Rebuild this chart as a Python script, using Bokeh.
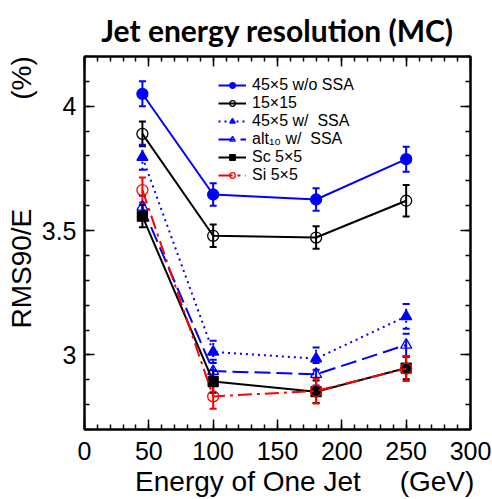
import math
from bokeh.plotting import figure
from bokeh.models import (ColumnDataSource, Whisker, TeeHead, Legend, LegendItem,
                          LinearAxis, SingleIntervalTicker, CustomJSTickFormatter)
from bokeh.embed import file_html
from bokeh.resources import INLINE

# ---------------- data ----------------
energy = [45, 100, 180, 250]

labels = ["45\u00d75 w/o SSA", "15\u00d715", "45\u00d75 w/  SSA", "alt\u2081\u2080 w/  SSA", "Sc 5\u00d75", "Si 5\u00d75"]

wo_ssa = [4.05, 3.645, 3.625, 3.787]
wo_ssa_err = [0.05, 0.045, 0.045, 0.05]

t15 = [3.889, 3.479, 3.472, 3.62]
t15_err = [0.05, 0.045, 0.045, 0.063]

w_ssa = [3.795, 3.012, 2.985, 3.155]
w_ssa_err = [0.05, 0.045, 0.045, 0.05]

alt10 = [3.595, 2.935, 2.922, 3.04]
alt10_err = [0.045, 0.045, 0.045, 0.045]

sc5 = [3.558, 2.893, 2.852, 2.947]
sc5_err = [0.045, 0.045, 0.045, 0.045]

si5 = [3.663, 2.833, 2.855, 2.945]
si5_err = [0.05, 0.05, 0.05, 0.05]

series = [
    (labels[0], wo_ssa, wo_ssa_err, "#0000ff", "solid", "circle", True),
    (labels[1], t15, t15_err, "#000000", "solid", "circle", False),
    (labels[2], w_ssa, w_ssa_err, "#0000ff", "2 4", "triangle", True),
    (labels[3], alt10, alt10_err, "#0000ff", "16 6", "triangle", False),
    (labels[4], sc5, sc5_err, "#000000", "solid", "square", True),
    (labels[5], si5, si5_err, "#ff0000", "14 5 3 5", "circle", False),
]

NB = "\u00a0"
x_title = NB * 7 + "Energy of One Jet" + NB * 5 + "(GeV)"
y_title = NB * 13 + "RMS90/E" + NB * 14 + "(%)"

W, H = 492, 499

p = figure(width=W, height=H, x_range=(0, 300), y_range=(2.7, 4.2),
           output_backend="svg", toolbar_location=None,
           title="Jet energy resolution (MC)",
           min_border_left=84, min_border_right=22, min_border_top=54, min_border_bottom=67)
p.grid.visible = False
p.outline_line_color = "black"
p.outline_line_width = 2
p.background_fill_color = "white"
p.border_fill_color = "white"

p.title.text_font = "Lato"
p.title.text_font_style = "bold"
p.title.text_font_size = "30px"
p.title.text_color = "black"
p.title.align = "center"
p.title.offset = -7
p.title.standoff = 18

xt = SingleIntervalTicker(interval=50, num_minor_ticks=5)
yt = SingleIntervalTicker(interval=0.5, num_minor_ticks=5)
fmt = CustomJSTickFormatter(code="return String(Math.round(tick*10)/10);")

def style_axis(ax, show_labels=True):
    ax.major_tick_in = 10
    ax.major_tick_out = 0
    ax.minor_tick_in = 5
    ax.minor_tick_out = 0
    ax.major_tick_line_width = 1.5
    ax.minor_tick_line_width = 1.5
    ax.axis_line_width = 2
    ax.major_tick_line_color = "black"
    ax.minor_tick_line_color = "black"
    ax.axis_line_color = "black"
    ax.major_label_text_font = "Liberation Sans"
    ax.major_label_text_font_size = "25px" if show_labels else "0px"
    ax.major_label_text_color = "black"
    ax.axis_label_text_font = "Liberation Sans"
    ax.axis_label_text_font_style = "normal"
    ax.axis_label_text_font_size = "28px"
    ax.axis_label_text_color = "black"

p.xaxis.ticker = xt
p.yaxis.ticker = yt
p.yaxis.formatter = fmt
style_axis(p.xaxis[0])
style_axis(p.yaxis[0])
p.xaxis.major_label_standoff = 12
p.yaxis.major_label_standoff = 8
p.xaxis.axis_label = x_title
p.yaxis.axis_label = y_title
p.xaxis.axis_label_standoff = 3
p.yaxis.axis_label_standoff = 2

top_ax = LinearAxis(ticker=SingleIntervalTicker(interval=50, num_minor_ticks=5))
style_axis(top_ax, False)
right_ax = LinearAxis(ticker=SingleIntervalTicker(interval=0.5, num_minor_ticks=5))
style_axis(right_ax, False)
p.add_layout(top_ax, "above")
p.add_layout(right_ax, "right")

items = []
for name, vals, errs, col, dash, marker, filled in series:
    src = ColumnDataSource(dict(x=energy, y=vals,
                                lo=[v - e for v, e in zip(vals, errs)],
                                hi=[v + e for v, e in zip(vals, errs)]))
    wk = Whisker(base="x", upper="hi", lower="lo", source=src, line_color=col,
                 line_width=2, line_dash=dash if dash != "14 5 3 5" else "solid",
                 upper_head=TeeHead(size=7, line_color=col, line_width=2),
                 lower_head=TeeHead(size=7, line_color=col, line_width=2))
    p.add_layout(wk)
    lr = p.line("x", "y", source=src, line_color=col, line_width=2, line_dash=dash)
    sr = p.scatter("x", "y", source=src, marker=marker, size=11 if marker != "square" else 10,
                   line_color=col, line_width=1.3,
                   fill_color=col if filled else "white", fill_alpha=1 if filled else 0)
    items.append(LegendItem(label=name, renderers=[lr, sr]))

legend = Legend(items=items, location=(134, 245))
legend.padding = 0
legend.margin = 0
legend.border_line_color = None
legend.background_fill_alpha = 0
legend.glyph_width = 28
legend.glyph_height = 14
legend.label_height = 14
legend.spacing = 0
legend.label_standoff = 6
legend.label_text_font = "Liberation Sans"
legend.label_text_font_size = "16px"
legend.label_text_color = "black"
p.add_layout(legend)

open("out.html", "w").write(file_html(p, INLINE))
